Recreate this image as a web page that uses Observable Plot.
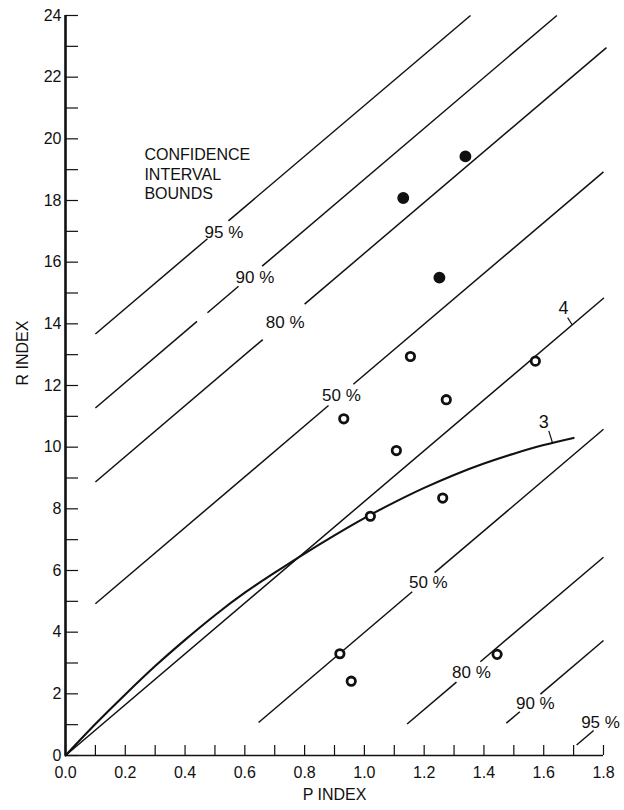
<!DOCTYPE html>
<html><head><meta charset="utf-8">
<script src="https://cdn.jsdelivr.net/npm/d3@7"></script>
<script src="https://cdn.jsdelivr.net/npm/@observablehq/plot@0.6"></script>
<style>body{margin:0;background:#fff;} svg{display:block}</style>
</head><body><div id="chart"></div>
<script>
// ---- axis ticks ----
const xTickValues = [0,0.1,0.2,0.3,0.4,0.5,0.6,0.7,0.8,0.9,1.0,1.1,1.2,1.3,1.4,1.5,1.6,1.7,1.8];
const xLabelValues = [0,0.2,0.4,0.6,0.8,1.0,1.2,1.4,1.6,1.8];
const yTickValues = [0,1,2,3,4,5,6,7,8,9,10,11,12,13,14,15,16,17,18,19,20,21,22,23,24];
const yLabelValues = [0,2,4,6,8,10,12,14,16,18,20,22,24];

// ---- confidence interval bound lines (segments, broken at labels) ----
const boundLabels = ["95 %","90 %","80 %","50 %","50 %","80 %","90 %","95 %"];
const boundLabelP = [0.53, 0.634, 0.735, 0.923, 1.214, 1.358, 1.572, 1.79];
const boundLabelR = [16.96, 15.5, 14.04, 11.68, 5.62, 2.70, 1.69, 1.08];
const segP0 = [0.1, 0.545, 0.1, 0.475, 0.658, 0.1, 0.80, 0.1, 0.963, 0.646, 1.235, 1.143, 1.388, 1.475, 1.589, 1.71];
const segR0 = [13.67, 17.34, 11.27, 14.36, 15.87, 8.87, 14.64, 4.92, 12.04, 1.07, 5.93, 1.02, 3.04, 1.05, 1.99, 0.34];
const segP1 = [0.475, 1.355, 0.44, 0.579, 1.644, 0.66, 1.81, 0.88, 1.8, 1.16, 1.8, 1.308, 1.8, 1.52, 1.8, 1.767];
const segR1 = [16.76, 24.0, 14.08, 15.22, 24.0, 13.49, 22.96, 11.35, 18.93, 5.31, 10.58, 2.38, 6.43, 1.42, 3.73, 0.81];

// ---- relationship 4 (straight) and 3 (curve) ----
const line4P = [0, 1.8];
const line4R = [0, 14.83];
const curve3P = [0, 0.1, 0.2, 0.3, 0.4, 0.5, 0.6, 0.7, 0.8, 0.9, 1.0, 1.1, 1.2, 1.3, 1.4, 1.5, 1.6, 1.7];
const curve3R = [0, 1.02, 1.98, 2.9, 3.75, 4.55, 5.28, 5.93, 6.55, 7.14, 7.7, 8.21, 8.68, 9.1, 9.47, 9.79, 10.07, 10.3];
const curveLabels = ["3", "4"];
const curveLabelP = [1.6, 1.666];
const curveLabelR = [10.8, 14.5];
const leaderP0 = [1.617, 1.68];
const leaderR0 = [10.53, 14.2];
const leaderP1 = [1.63, 1.695];
const leaderR1 = [10.12, 13.97];

// ---- observations ----
const filledP = [1.338, 1.13, 1.251];
const filledR = [19.43, 18.08, 15.5];
const openP = [1.154, 1.572, 1.274, 0.931, 1.107, 1.262, 1.02, 0.918, 0.956, 1.444];
const openR = [12.94, 12.79, 11.54, 10.92, 9.89, 8.35, 7.76, 3.3, 2.41, 3.28];

const noteText = ["CONFIDENCE", "INTERVAL", "BOUNDS"];

// ---- build tables ----
const segs = segP0.map((p, i) => ({p0: p, r0: segR0[i], p1: segP1[i], r1: segR1[i]}));
const bLabels = boundLabels.map((t, i) => ({t, p: boundLabelP[i], r: boundLabelR[i]}));
const line4 = line4P.map((p, i) => ({p, r: line4R[i]}));
const curve3 = curve3P.map((p, i) => ({p, r: curve3R[i]}));
const cLabels = curveLabels.map((t, i) => ({t, p: curveLabelP[i], r: curveLabelR[i]}));
const leaders = leaderP0.map((p, i) => ({p0: p, r0: leaderR0[i], p1: leaderP1[i], r1: leaderR1[i]}));
const filled = filledP.map((p, i) => ({p, r: filledR[i]}));
const open = openP.map((p, i) => ({p, r: openR[i]}));

const ink = "#111";
const chart = Plot.plot({
  width: 624,
  height: 810,
  marginLeft: 65,
  marginRight: 21,
  marginTop: 15,
  marginBottom: 55,
  style: {fontFamily: "'Liberation Sans', Arial, sans-serif", background: "#fff", color: ink},
  x: {domain: [0, 1.8]},
  y: {domain: [0, 24]},
  marks: [
    // ticks pointing inward
    Plot.tickX(xTickValues, {x: d => d, insetTop: 730, stroke: ink, strokeWidth: 1.2}),
    Plot.tickY(yTickValues, {y: d => d, insetRight: 525, stroke: ink, strokeWidth: 1.2}),
    Plot.axisX(xLabelValues, {tickSize: 0, tickPadding: 11, fontSize: 16, tickFormat: d => d.toFixed(1), label: null}),
    Plot.axisY(yLabelValues, {tickSize: 0, tickPadding: 4, fontSize: 16, tickFormat: d => String(d), label: null}),
    Plot.ruleX([0], {stroke: ink, strokeWidth: 2.6}),
    Plot.ruleY([0], {stroke: ink, strokeWidth: 1.5}),
    Plot.text(["P INDEX"], {frameAnchor: "bottom", dy: 44, fontSize: 16, fill: ink}),
    Plot.text(["R INDEX"], {frameAnchor: "left", dx: -43, rotate: -90, fontSize: 16, fill: ink}),
    // bound lines
    Plot.link(segs, {x1: "p0", y1: "r0", x2: "p1", y2: "r1", stroke: ink, strokeWidth: 1.5}),
    Plot.text(bLabels, {x: "p", y: "r", text: "t", fontSize: 17, fill: ink}),
    // relationships
    Plot.line(line4, {x: "p", y: "r", stroke: ink, strokeWidth: 1.5}),
    Plot.line(curve3, {x: "p", y: "r", stroke: ink, strokeWidth: 2.1, curve: "natural"}),
    Plot.link(leaders, {x1: "p0", y1: "r0", x2: "p1", y2: "r1", stroke: ink, strokeWidth: 1.2}),
    Plot.text(cLabels, {x: "p", y: "r", text: "t", fontSize: 18, fill: ink}),
    // note
    Plot.text([noteText.join("\n")], {x: 0.264, y: 19.75, text: d => d, textAnchor: "start", lineAnchor: "top", lineHeight: 1.22, fontSize: 16, fill: ink}),
    // observations
    Plot.dot(open, {x: "p", y: "r", r: 4.2, fill: "#fff", stroke: ink, strokeWidth: 2.8}),
    Plot.dot(filled, {x: "p", y: "r", r: 5.2, fill: ink, stroke: ink})
  ]
});
document.getElementById("chart").appendChild(chart);
</script>
</body></html>
